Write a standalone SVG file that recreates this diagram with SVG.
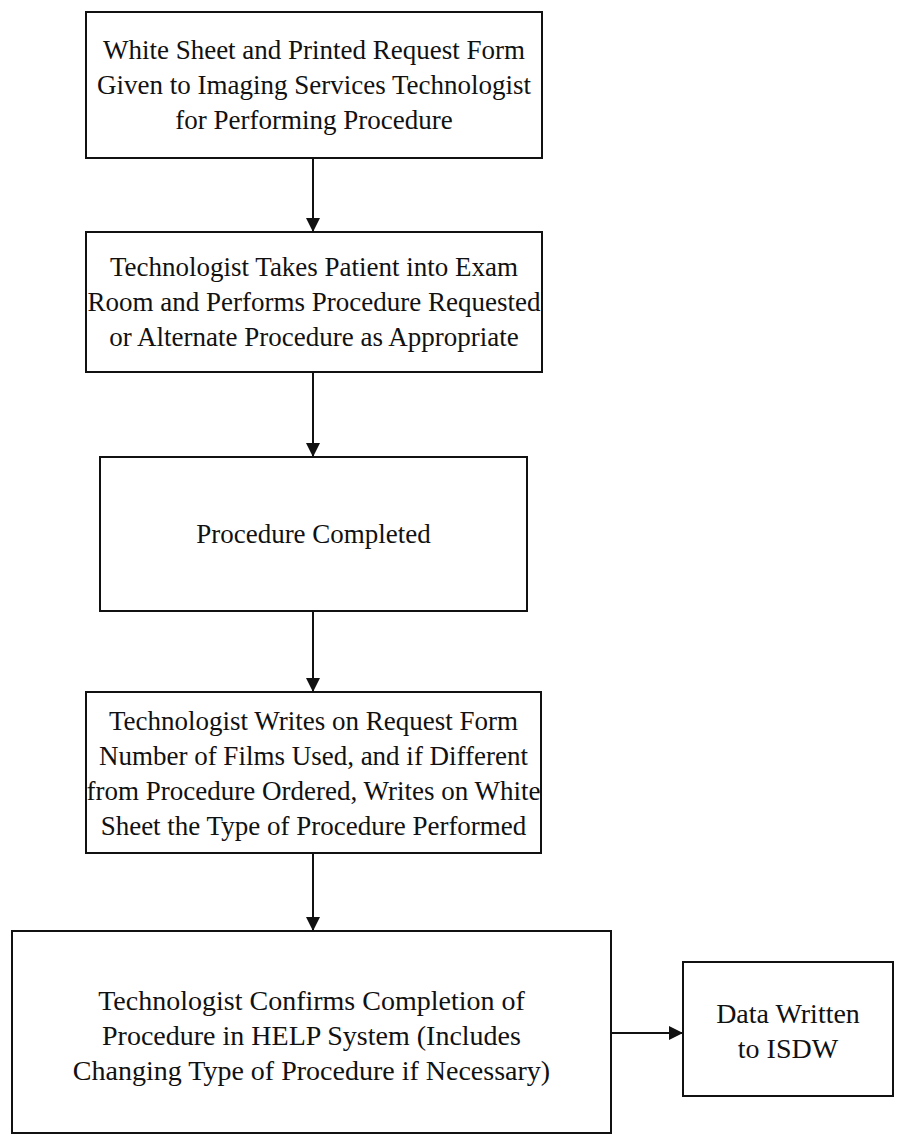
<svg xmlns="http://www.w3.org/2000/svg" width="900" height="1147" viewBox="0 0 900 1147">
  <style>
    .box { fill: #ffffff; stroke: #111111; stroke-width: 2; }
    .lbl { font-family: "Liberation Serif", "Times New Roman", serif; font-size: 27px; fill: #111111; text-anchor: middle; }
    .lbl-lg { font-size: 28px; }
    .edge { stroke: #111111; stroke-width: 2; fill: none; marker-end: url(#head); }
  </style>
  <defs>
    <marker id="head" viewBox="0 0 14 16" refX="14" refY="8" markerWidth="14" markerHeight="16" markerUnits="userSpaceOnUse" orient="auto">
      <path d="M0,1 L14,8 L0,15 z" fill="#111111"/>
    </marker>
  </defs>
  <rect width="900" height="1147" fill="#ffffff"/>

  <g id="node-handoff">
    <rect class="box" x="86" y="12" width="456" height="146"/>
    <text class="lbl" x="314" y="59">White Sheet and Printed Request Form</text>
    <text class="lbl" x="314" y="94">Given to Imaging Services Technologist</text>
    <text class="lbl" x="314" y="129">for Performing Procedure</text>
  </g>

  <g id="node-perform">
    <rect class="box" x="86" y="232" width="456" height="140"/>
    <text class="lbl" x="314" y="276">Technologist Takes Patient into Exam</text>
    <text class="lbl" x="314" y="311">Room and Performs Procedure Requested</text>
    <text class="lbl" x="314" y="346">or Alternate Procedure as Appropriate</text>
  </g>

  <g id="node-completed">
    <rect class="box" x="100" y="457" width="427" height="154"/>
    <text class="lbl" x="313.5" y="543">Procedure Completed</text>
  </g>

  <g id="node-record">
    <rect class="box" x="86" y="692" width="455" height="161"/>
    <text class="lbl" x="313.5" y="730">Technologist Writes on Request Form</text>
    <text class="lbl" x="313.5" y="765">Number of Films Used, and if Different</text>
    <text class="lbl" x="313.5" y="800">from Procedure Ordered, Writes on White</text>
    <text class="lbl" x="313.5" y="835">Sheet the Type of Procedure Performed</text>
  </g>

  <g id="node-confirm">
    <rect class="box" x="12" y="931" width="599" height="202"/>
    <text class="lbl lbl-lg" x="311.5" y="1010">Technologist Confirms Completion of</text>
    <text class="lbl lbl-lg" x="311.5" y="1045">Procedure in HELP System (Includes</text>
    <text class="lbl lbl-lg" x="311.5" y="1080">Changing Type of Procedure if Necessary)</text>
  </g>

  <g id="node-isdw">
    <rect class="box" x="683" y="962" width="210" height="134"/>
    <text class="lbl lbl-lg" x="788" y="1023">Data Written</text>
    <text class="lbl lbl-lg" x="788" y="1058">to ISDW</text>
  </g>

  <g id="connectors">
    <line class="edge" x1="313" y1="158" x2="313" y2="232"/>
    <line class="edge" x1="313" y1="372" x2="313" y2="457"/>
    <line class="edge" x1="313" y1="611" x2="313" y2="692"/>
    <line class="edge" x1="313" y1="853" x2="313" y2="931"/>
    <line class="edge" x1="611" y1="1033" x2="683" y2="1033"/>
  </g>
</svg>
